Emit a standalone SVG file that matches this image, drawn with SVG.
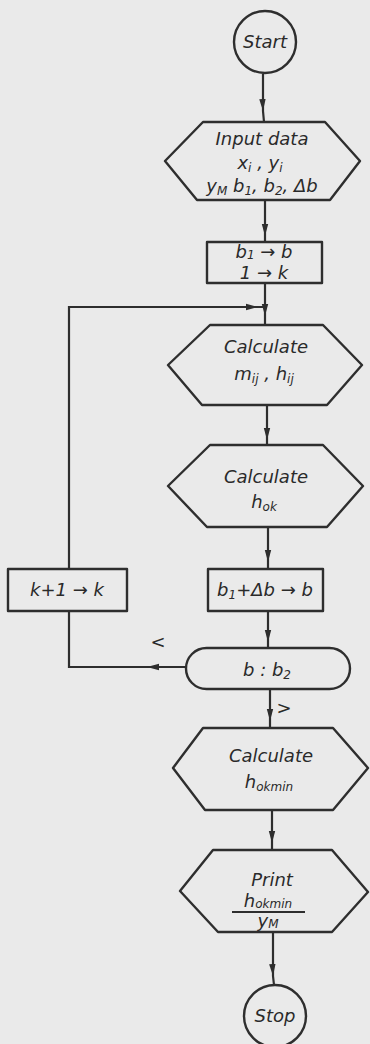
<svg xmlns="http://www.w3.org/2000/svg" width="370" height="1044" viewBox="0 0 370 1044">
<style>
.s{fill:none;stroke:#2e2e2e;stroke-width:2.4;stroke-linejoin:round}
.c{fill:none;stroke:#2e2e2e;stroke-width:2.2}
.t{font-family:"DejaVu Sans","Liberation Sans",sans-serif;font-style:italic;font-size:18px;fill:#2a2a2a;text-anchor:middle}
.sub{font-size:12px}
</style>
<defs>
<marker id="ah" viewBox="0 0 12 8" refX="12" refY="4" markerWidth="12" markerHeight="8" markerUnits="userSpaceOnUse" orient="auto">
<path d="M0,0.8 L12,4 L0,7.2 Z" fill="#2e2e2e"/>
</marker>
</defs>
<rect width="370" height="1044" fill="#eaeaea"/>
<g id="connectors">
<path class="c" d="M263,74 L263,111 L264,122" marker-mid="url(#ah)"/>
<path class="c" d="M265,200 L265,236 L265,242" marker-mid="url(#ah)"/>
<path class="c" d="M265,283 L265,316 L265,325" marker-mid="url(#ah)"/>
<path class="c" d="M267,405 L267,440 L267,445" marker-mid="url(#ah)"/>
<path class="c" d="M268,527 L268,562 L268,569" marker-mid="url(#ah)"/>
<path class="c" d="M268,611 L268,642 L268,648" marker-mid="url(#ah)"/>
<path class="c" d="M270,689 L270,721 L270,728" marker-mid="url(#ah)"/>
<path class="c" d="M272,810 L272,843 L272,850" marker-mid="url(#ah)"/>
<path class="c" d="M273,932 L273,976 L274,985" marker-mid="url(#ah)"/>
<path class="c" d="M186,667 L147,667 L140,667" marker-mid="url(#ah)"/>
<path class="c" d="M140,667 L69,667 L69,611"/>
<path class="c" d="M69,569 L69,307 L200,307"/>
<path class="c" d="M200,307 L258,307 L265,307" marker-mid="url(#ah)"/>
<text class="t" x="158" y="648" font-size="16">&lt;</text>
<text class="t" x="284" y="714" font-size="16">&gt;</text>
</g>
<g id="start">
<circle class="s" cx="265" cy="42" r="31"/>
<text class="t" x="265" y="48">Start</text>
</g>
<g id="input">
<polygon class="s" points="165,161 203,122 325,122 360,161 330,200 197,200"/>
<text class="t" x="262" y="145">Input data</text>
<text class="t" x="260" y="169">x<tspan class="sub" dy="3">i</tspan><tspan dy="-3"> ,  y</tspan><tspan class="sub" dy="3">i</tspan></text>
<text class="t" x="262" y="192">y<tspan class="sub" dy="3">M</tspan><tspan dy="-3"> b</tspan><tspan class="sub" dy="3">1</tspan><tspan dy="-3">, b</tspan><tspan class="sub" dy="3">2</tspan><tspan dy="-3">, Δb</tspan></text>
</g>
<g id="init">
<rect class="s" x="207" y="242" width="115" height="41"/>
<text class="t" x="264" y="258" font-size="14">b<tspan class="sub" font-size="9" dy="1">1</tspan><tspan dy="-1"> → b</tspan></text>
<text class="t" x="264" y="279" font-size="14">1 → k</text>
</g>
<g id="calc-mh">
<polygon class="s" points="168,365 210,325 323,325 362,365 327,405 202,405"/>
<text class="t" x="266" y="353">Calculate</text>
<text class="t" x="264" y="380">m<tspan class="sub" dy="3">ij</tspan><tspan dy="-3">  ,  h</tspan><tspan class="sub" dy="3">ij</tspan></text>
</g>
<g id="calc-hok">
<polygon class="s" points="168,486 210,445 323,445 363,486 327,527 207,527"/>
<text class="t" x="266" y="483">Calculate</text>
<text class="t" x="264" y="508">h<tspan class="sub" dy="3">ok</tspan></text>
</g>
<g id="incr-b">
<rect class="s" x="208" y="569" width="115" height="42"/>
<text class="t" x="265" y="596">b<tspan class="sub" dy="3">1</tspan><tspan dy="-3">+Δb → b</tspan></text>
</g>
<g id="incr-k">
<rect class="s" x="8" y="569" width="119" height="42"/>
<text class="t" x="67" y="596">k+1 → k</text>
</g>
<g id="compare">
<rect class="s" x="186" y="648" width="164" height="41" rx="20.5"/>
<text class="t" x="267" y="676">b : b<tspan class="sub" dy="3">2</tspan></text>
</g>
<g id="calc-hokmin">
<polygon class="s" points="173,768 203,728 333,728 368,768 333,810 205,810"/>
<text class="t" x="271" y="762">Calculate</text>
<text class="t" x="269" y="788">h<tspan class="sub" dy="3">okmin</tspan></text>
</g>
<g id="print">
<polygon class="s" points="180,891 213,850 332,850 368,892 332,932 218,932"/>
<text class="t" x="272" y="886">Print</text>
<text class="t" x="268" y="907" font-size="12">h<tspan class="sub" dy="1" font-size="9">okmin</tspan></text>
<line class="c" x1="232" y1="912" x2="305" y2="912"/>
<text class="t" x="268" y="927" font-size="12">y<tspan class="sub" dy="1" font-size="9">M</tspan></text>
</g>
<g id="stop">
<circle class="s" cx="275" cy="1016" r="31"/>
<text class="t" x="275" y="1022">Stop</text>
</g>
</svg>
